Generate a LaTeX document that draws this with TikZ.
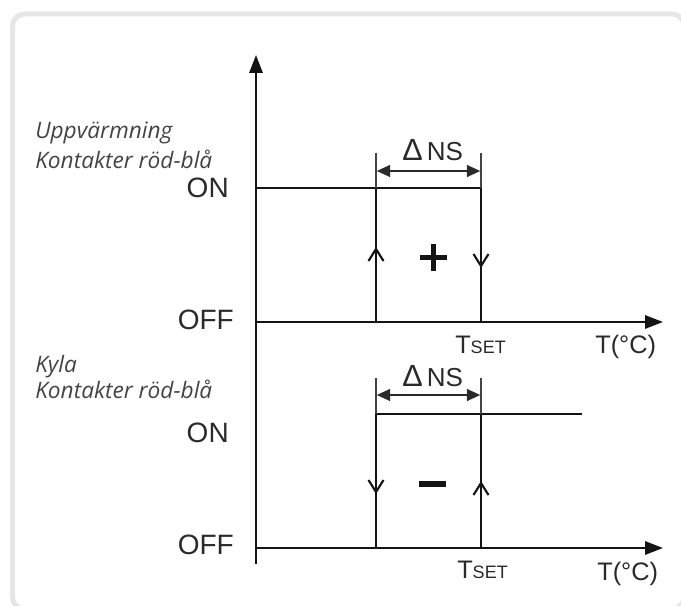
\documentclass[tikz,border=0pt]{standalone}
\usepackage{fontspec}
\setmainfont{Liberation Sans}
\newfontfamily\labfont{Open Sans}
\usetikzlibrary{arrows.meta}
\definecolor{framegray}{HTML}{E6E6E6}
\definecolor{ink}{HTML}{141414}
\definecolor{txt}{HTML}{2A2A2A}
\definecolor{labtxt}{HTML}{444444}
\begin{document}
\begin{tikzpicture}[x=0.75pt,y=-0.75pt,
  axis/.style={draw=ink, line width=1.5pt, -{Triangle[length=13.5pt,width=10pt]}},
  level/.style={draw=ink, line width=1.2pt},
  thin/.style={draw=ink!80, line width=0.9pt},
  dimarrow/.style={draw=txt, line width=1pt, {Triangle[length=10pt,width=9pt]}-{Triangle[length=10pt,width=9pt]}},
  chev/.style={draw=ink, line width=1.6pt, miter limit=4},
  onoff/.style={text=txt, inner sep=0pt, font=\fontsize{21}{24}\selectfont},
  lab/.style={text=labtxt, inner sep=0pt, font=\labfont\itshape\fontsize{17}{20}\selectfont},
  axl/.style={text=txt, inner sep=0pt, anchor=base west, font=\fontsize{19}{22}\selectfont},
  dlt/.style={text=txt, inner sep=0pt, anchor=base west, font=\fontsize{23}{26}\selectfont},
  sign/.style={fill=ink, draw=none}
]
\useasboundingbox (0,0) rectangle (681,606);
% frame
\draw[framegray, line width=3.75pt, rounded corners=9pt] (12.5,14) rectangle (684,609);

% coordinates
\coordinate (ybot) at (256,564);
\coordinate (ytop) at (256,55);
\coordinate (o1) at (256,322);
\coordinate (x1) at (663,322);
\coordinate (o2) at (256,548);
\coordinate (x2) at (663,548);

% axes
\draw[axis] (ybot) -- (ytop);
\draw[axis] (o1) -- (x1);
\draw[axis] (o2) -- (x2);

% ---------- upper diagram ----------
\coordinate (u_on0) at (256,188);
\coordinate (u_a_on) at (376,188);
\coordinate (u_b_on) at (481,188);
\coordinate (u_a_top) at (376,153);
\coordinate (u_b_top) at (481,153);
\coordinate (u_a_off) at (376,322);
\coordinate (u_b_off) at (481,322);
\coordinate (u_a_mid) at (376,249);
\coordinate (u_b_mid) at (481,266);
\coordinate (u_dl) at (376,171);
\coordinate (u_dr) at (481,171);

\draw[level] (u_on0) -- (u_b_on);
\draw[thin] (u_a_top) -- (u_a_on);
\draw[thin] (u_b_top) -- (u_b_on);
\draw[level] (u_a_on) -- (u_a_off);
\draw[level] (u_b_on) -- (u_b_off);
\draw[chev] ([shift={(-7.5,12)}]u_a_mid) -- (u_a_mid) -- ([shift={(7.5,12)}]u_a_mid);
\draw[chev] ([shift={(-7.5,-12)}]u_b_mid) -- (u_b_mid) -- ([shift={(7.5,-12)}]u_b_mid);
\draw[dimarrow] ([xshift=0.6pt]u_dl) -- ([xshift=-0.6pt]u_dr);
\node[dlt] (u_delta) at (402,161) {Δ\hspace{3pt}{\fontsize{19.5}{22}\selectfont NS}};
\fill[sign] (419.5,254.5) rectangle (446.5,259.5);
\fill[sign] (430.5,243.5) rectangle (435.5,270.5);

% ---------- lower diagram ----------
\coordinate (l_a_on) at (376,414);
\coordinate (l_b_on) at (481,414);
\coordinate (l_end) at (582,414);
\coordinate (l_a_top) at (376,378);
\coordinate (l_b_top) at (481,378);
\coordinate (l_a_off) at (376,548);
\coordinate (l_b_off) at (481,548);
\coordinate (l_a_mid) at (376,492);
\coordinate (l_b_mid) at (481,483);
\coordinate (l_dl) at (376,395);
\coordinate (l_dr) at (481,395);

\draw[level] (l_a_on) -- (l_end);
\draw[thin] (l_a_top) -- (l_a_on);
\draw[thin] (l_b_top) -- (l_b_on);
\draw[level] (l_a_on) -- (l_a_off);
\draw[level] (l_b_on) -- (l_b_off);
\draw[chev] ([shift={(-7.5,-12)}]l_a_mid) -- (l_a_mid) -- ([shift={(7.5,-12)}]l_a_mid);
\draw[chev] ([shift={(-7.5,12)}]l_b_mid) -- (l_b_mid) -- ([shift={(7.5,12)}]l_b_mid);
\draw[dimarrow] ([xshift=0.6pt]l_dl) -- ([xshift=-0.6pt]l_dr);
\node[dlt] (l_delta) at (402,386) {Δ\hspace{3pt}{\fontsize{19.5}{22}\selectfont NS}};
\fill[sign] (419,480.5) rectangle (446,486.5);

% ---------- labels ----------
\node[lab, anchor=base west] (heat) at (35,138) {Uppvärmning};
\node[lab, anchor=base west] (heatk) at (35,168) {Kontakter röd-blå};
\node[lab, anchor=base west] (cool) at (35,372) {Kyla};
\node[lab, anchor=base west] (coolk) at (35,398) {Kontakter röd-blå};

\node[onoff, anchor=east] (on1) at (229,188) {ON};
\node[onoff, anchor=east] (off1) at (234,320) {OFF};
\node[onoff, anchor=east] (on2) at (229,433) {ON};
\node[onoff, anchor=east] (off2) at (234,545) {OFF};

\node[axl] (tset1) at (455,353) {T{\fontsize{13.5}{15}\selectfont SET}};
\node[axl] (tc1) at (595,353) {T(°C)};
\node[axl] (tset2) at (457,578) {T{\fontsize{13.5}{15}\selectfont SET}};
\node[axl] (tc2) at (597,580) {T(°C)};
\end{tikzpicture}
\end{document}
